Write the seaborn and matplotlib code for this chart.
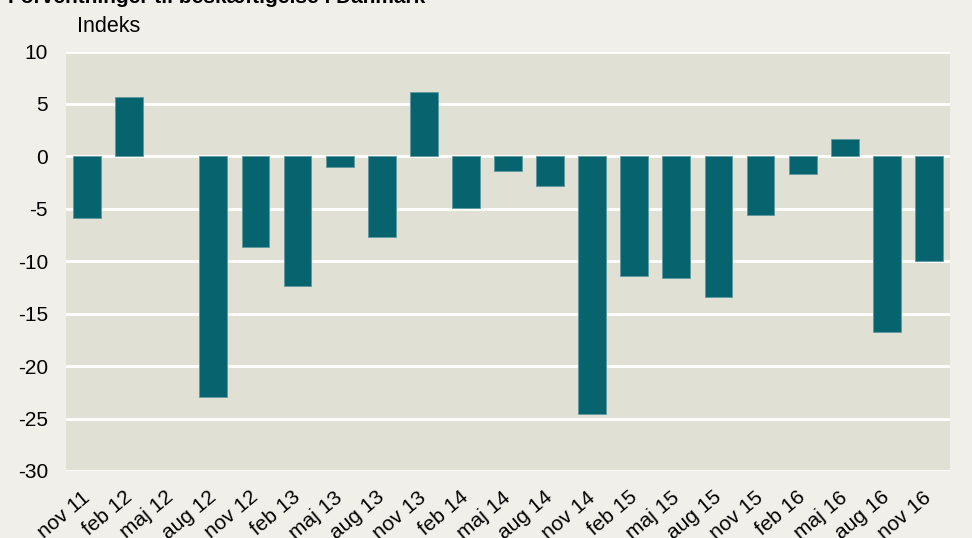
import matplotlib
matplotlib.use("Agg")
import matplotlib.pyplot as plt
import matplotlib.transforms as mtransforms
import seaborn as sns
import pandas as pd

categories = ["nov 11", "feb 12", "maj 12", "aug 12", "nov 12", "feb 13", "maj 13",
              "aug 13", "nov 13", "feb 14", "maj 14", "aug 14", "nov 14", "feb 15",
              "maj 15", "aug 15", "nov 15", "feb 16", "maj 16", "aug 16", "nov 16"]
values = [-5.9, 5.7, float("nan"), -22.9, -8.6, -12.4, -1.0, -7.7, 6.1, -4.9, -1.4, -2.8,
          -24.6, -11.4, -11.6, -13.4, -5.6, -1.7, 1.7, -16.7, -10.0]
yticks = [10, 5, 0, -5, -10, -15, -20, -25, -30]

sns.set_theme(style="white")
plt.rcParams['font.family'] = ['Liberation Sans', 'DejaVu Sans']

df = pd.DataFrame({"kvartal": categories, "indeks": values})

fig = plt.figure(figsize=(9.72, 5.38), dpi=100, facecolor="#F0EFE9")
ax = fig.add_axes([66/972, 1 - 471/538, (950-66)/972, (471-51.5)/538])
ax.set_facecolor("#E0E0D5")

sns.barplot(data=df, x="kvartal", y="indeks", ax=ax, color="#07646F",
            width=0.66, saturation=1, edgecolor="#5E9AA0", linewidth=0.6, zorder=3)

ax.set_ylim(-30, 10)
ax.set_xlim(-0.5, len(categories) - 0.5)
ax.set_yticks(yticks)
ax.set_yticklabels([str(t) for t in yticks], fontsize=15, color="#000000")
ax.yaxis.grid(True, color="white", linewidth=2, zorder=1)
ax.set_axisbelow(True)
for s in ax.spines.values():
    s.set_visible(False)
ax.tick_params(axis="both", length=0)
ax.tick_params(axis="y", pad=13)
ax.tick_params(axis="x", pad=12)
ax.set_xlabel("")
ax.set_ylabel("")
offset = mtransforms.ScaledTranslation(-6/100, 0, fig.dpi_scale_trans)
for lab in ax.get_xticklabels():
    lab.set_rotation(40)
    lab.set_ha("right")
    lab.set_va("top")
    lab.set_rotation_mode("anchor")
    lab.set_fontsize(15)
    lab.set_color("#000000")
    lab.set_transform(lab.get_transform() + offset)

fig.text(77/972, 1 - 27/538, "Indeks", fontsize=15.5, va="center", ha="left", color="#000000")
fig.text(8/972, 1 - 3/538, "Forventninger til beskæftigelse i Danmark",
         fontsize=15, fontweight="bold", va="baseline", ha="left", color="#000000")

fig.savefig("out.png", dpi=100, facecolor=fig.get_facecolor())
